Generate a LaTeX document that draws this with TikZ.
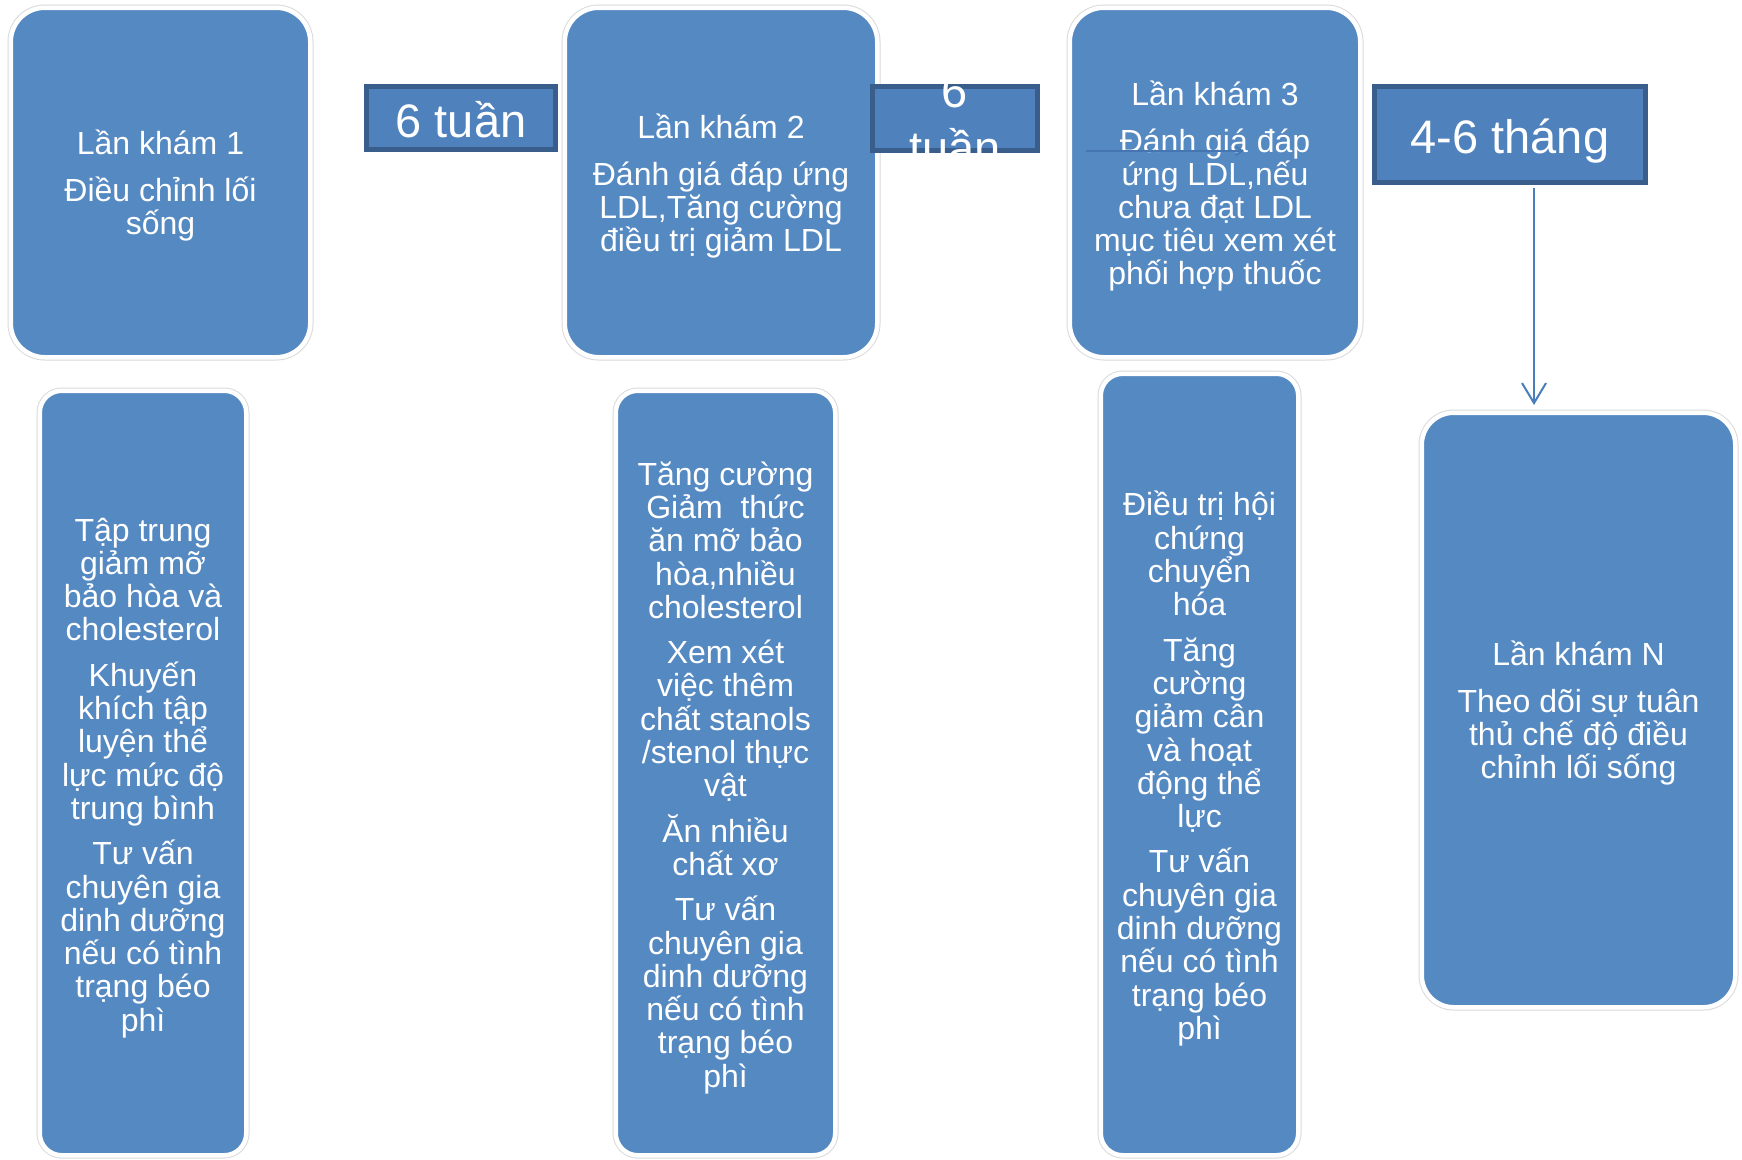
\documentclass[tikz,border=0pt]{standalone}
\usepackage{fontspec}
\setmainfont{Liberation Sans}
\usetikzlibrary{arrows.meta}
\definecolor{boxblue}{RGB}{85,137,194}
\definecolor{lblfill}{RGB}{79,129,189}
\definecolor{lbldraw}{RGB}{58,94,139}
\definecolor{halogray}{RGB}{218,218,218}
\definecolor{arrowblue}{RGB}{74,126,187}
\definecolor{faintblue}{RGB}{70,118,178}
\newcommand{\kmtop}{\rule{0pt}{31pt}}
\newcommand{\kmlow}{\rule{0pt}{33pt}}
\begin{document}
\begin{tikzpicture}[x=1pt,y=-1pt,
  card/.style={rectangle, fill=boxblue, draw=white, line width=4.5pt,
    preaction={draw=halogray, line width=6.5pt, fill=none},
    text=white, align=center, inner sep=0pt},
  topcard/.style={card, rounded corners=34pt, font=\fontsize{32}{33}\selectfont},
  lowcard/.style={card, rounded corners=22pt, font=\fontsize{32}{33.3}\selectfont},
  tag/.style={rectangle, fill=lblfill, draw=lbldraw, line width=5pt, text=white, inner sep=0pt,
    font=\fontsize{47}{57}\selectfont},
  tagtext/.style={text=white, align=center, inner sep=0pt}
]
\useasboundingbox[fill=white] (0,0) rectangle (1742,1159);

% top row
\node[topcard, minimum width=299.5pt, minimum height=349.5pt] (T1) at (160.5,182.5)
  {\kmtop Lần khám 1\\[14pt]Điều chỉnh lối\\sống};
\node[topcard, minimum width=312.5pt, minimum height=349.5pt] (T2) at (721,182.5)
  {\kmtop Lần khám 2\\[14pt]Đánh giá đáp ứng\\LDL,Tăng cường\\điều trị giảm LDL};
\node[topcard, minimum width=290.5pt, minimum height=349.5pt] (T3) at (1215,182.5)
  {\kmtop Lần khám 3\\[14pt]Đánh giá đáp\\ứng LDL,nếu\\chưa đạt LDL\\mục tiêu xem xét\\phối hợp thuốc};

% bottom row
\node[lowcard, minimum width=206.5pt, minimum height=764.5pt] (B1) at (143,773)
  {\kmlow Tập trung\\giảm mỡ\\bảo hòa và\\cholesterol\\[12pt]Khuyến\\khích tập\\luyện thể\\lực mức độ\\trung bình\\[12pt]Tư vấn\\chuyên gia\\dinh dưỡng\\nếu có tình\\trạng béo\\phì};
\node[lowcard, minimum width=219.5pt, minimum height=764.5pt] (B2) at (725.5,773)
  {\kmlow Tăng cường\\Giảm~~thức\\ăn mỡ bảo\\hòa,nhiều\\cholesterol\\[12pt]Xem xét\\việc thêm\\chất stanols\\/stenol thực\\vật\\[12pt]Ăn nhiều\\chất xơ\\[12pt]Tư vấn\\chuyên gia\\dinh dưỡng\\nếu có tình\\trạng béo\\phì};
\node[lowcard, minimum width=197.5pt, minimum height=781.5pt] (B3) at (1199.5,764.5)
  {\kmlow Điều trị hội\\chứng\\chuyển\\hóa\\[12pt]Tăng\\cường\\giảm cân\\và hoạt\\động thể\\lực\\[12pt]Tư vấn\\chuyên gia\\dinh dưỡng\\nếu có tình\\trạng béo\\phì};
\node[topcard, rounded corners=32pt, minimum width=313.5pt, minimum height=594.5pt] (BN) at (1578.5,710)
  {\kmtop Lần khám N\\[14pt]Theo dõi sự tuân\\thủ chế độ điều\\chỉnh lối sống};

% interval tags
\node[tag, minimum width=189pt, minimum height=63pt, text height=48pt, text depth=10pt] (L1) at (461,118) {6 tuần};
\begin{scope}
  \clip (860,84) rectangle (1050,155);
  \node[tag, minimum width=165pt, minimum height=64pt] (L2) at (955,118.5) {};
  \node[tagtext, anchor=north, font=\fontsize{47}{57}\selectfont] (L2t) at (955,74.5) {6\\tuần};
\end{scope}
\node[tag, minimum width=271pt, minimum height=96pt, text height=47pt, text depth=10pt] (L3) at (1510,134.5) {4-6 tháng};

% faint arrow inside box 3
\coordinate (fa) at (1086,151);
\coordinate (fb) at (1244,151);
\draw[faintblue, line width=1.5pt, -{Straight Barb[length=7pt,width=9pt]}] (fa) -- (fb);

% arrow to visit N
\coordinate (tipN) at (1534,405);
\draw[arrowblue, line width=2pt, shorten <=2.5pt, -{Straight Barb[length=20pt,width=24pt]}] (L3.south -| tipN) -- (tipN);
\end{tikzpicture}
\end{document}
